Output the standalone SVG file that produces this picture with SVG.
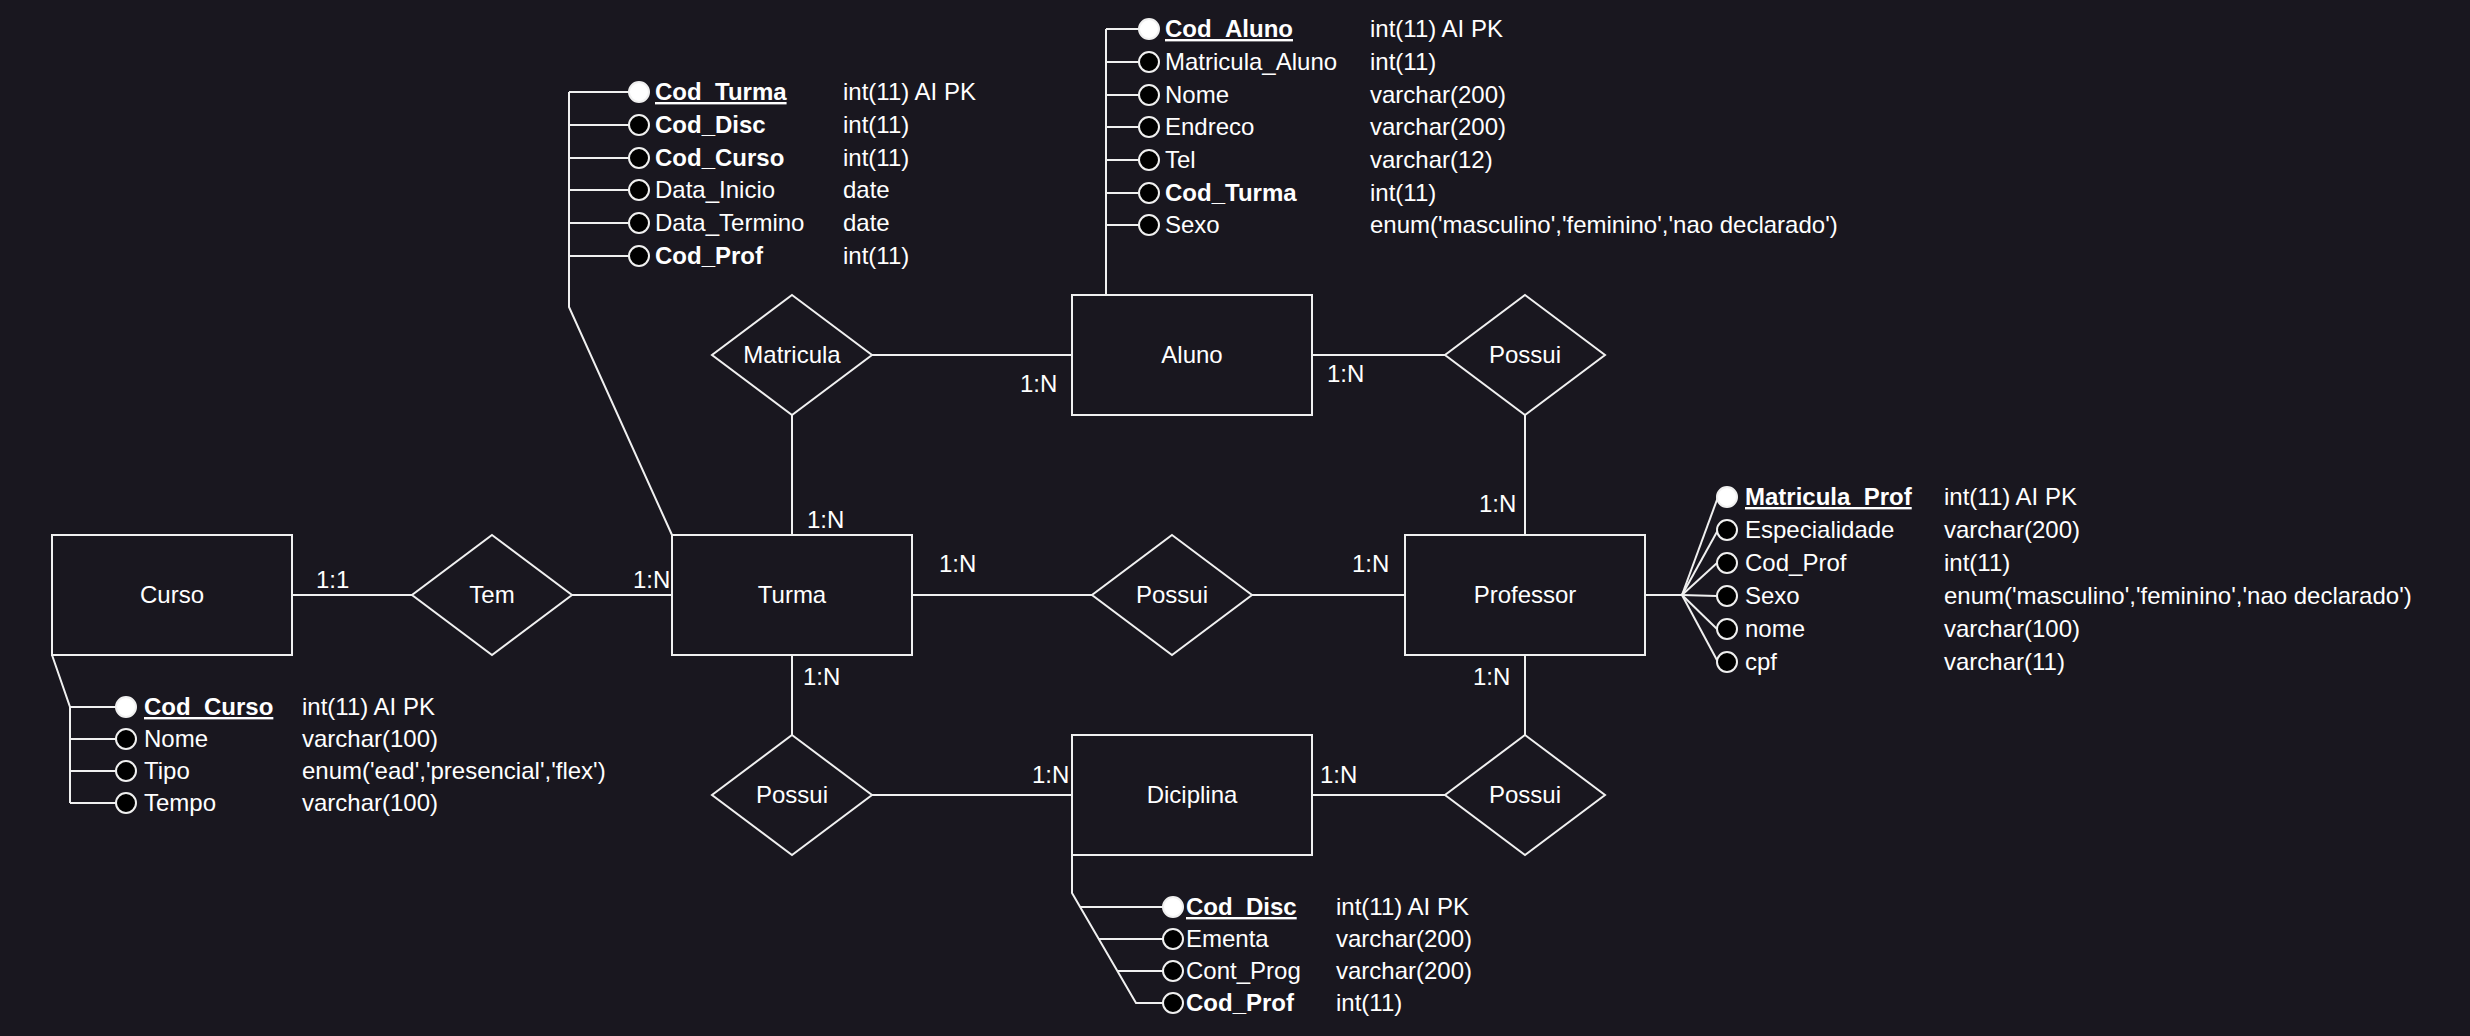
<svg xmlns="http://www.w3.org/2000/svg" width="2470" height="1036" viewBox="0 0 2470 1036">
<style>
.bg{fill:#19171f}
.ent{fill:#19171f;stroke:#f0f0f0;stroke-width:2}
.rel{fill:#19171f;stroke:#f0f0f0;stroke-width:2}
.ln{fill:none;stroke:#f0f0f0;stroke-width:2}
.t{font-family:"Liberation Sans",Arial,sans-serif;font-size:24px;fill:#ffffff}
.c{text-anchor:middle}
.b{font-weight:bold}
.u{text-decoration:underline}
.ca{fill:#000000;stroke:#f0f0f0;stroke-width:2}
.pk{fill:#ffffff;stroke:#f0f0f0;stroke-width:2}
</style>
<rect class="bg" x="0" y="0" width="2470" height="1036"/>

<g id="connectors">
<line class="ln" x1="292" y1="595" x2="412" y2="595"/>
<line class="ln" x1="572" y1="595" x2="672" y2="595"/>
<line class="ln" x1="912" y1="595" x2="1092" y2="595"/>
<line class="ln" x1="1252" y1="595" x2="1405" y2="595"/>
<line class="ln" x1="872" y1="355" x2="1072" y2="355"/>
<line class="ln" x1="1312" y1="355" x2="1445" y2="355"/>
<line class="ln" x1="792" y1="415" x2="792" y2="535"/>
<line class="ln" x1="1525" y1="415" x2="1525" y2="535"/>
<line class="ln" x1="792" y1="655" x2="792" y2="735"/>
<line class="ln" x1="1525" y1="655" x2="1525" y2="735"/>
<line class="ln" x1="872" y1="795" x2="1072" y2="795"/>
<line class="ln" x1="1312" y1="795" x2="1445" y2="795"/>
<text class="t" x="316" y="588">1:1</text>
<text class="t" x="633" y="588">1:N</text>
<text class="t" x="1020" y="392">1:N</text>
<text class="t" x="1327" y="382">1:N</text>
<text class="t" x="807" y="528">1:N</text>
<text class="t" x="1479" y="512">1:N</text>
<text class="t" x="939" y="572">1:N</text>
<text class="t" x="1352" y="572">1:N</text>
<text class="t" x="803" y="685">1:N</text>
<text class="t" x="1473" y="685">1:N</text>
<text class="t" x="1032" y="783">1:N</text>
<text class="t" x="1320" y="783">1:N</text>
</g>

<g id="curso">
<rect class="ent" x="52" y="535" width="240" height="120"/>
<text class="t c" x="172" y="603">Curso</text>
</g>
<g id="curso-attrs">
<polyline class="ln" points="52,655 70,707 70,803"/>
<line class="ln" x1="70" y1="707" x2="116" y2="707"/>
<line class="ln" x1="70" y1="739" x2="116" y2="739"/>
<line class="ln" x1="70" y1="771" x2="116" y2="771"/>
<line class="ln" x1="70" y1="803" x2="116" y2="803"/>
<circle class="pk" cx="126" cy="707" r="10"/>
<circle class="ca" cx="126" cy="739" r="10"/>
<circle class="ca" cx="126" cy="771" r="10"/>
<circle class="ca" cx="126" cy="803" r="10"/>
<text class="t b u" x="144" y="715">Cod_Curso</text>
<text class="t" x="144" y="747">Nome</text>
<text class="t" x="144" y="779">Tipo</text>
<text class="t" x="144" y="811">Tempo</text>
<text class="t" x="302" y="715">int(11) AI PK</text>
<text class="t" x="302" y="747">varchar(100)</text>
<text class="t" x="302" y="779">enum('ead','presencial','flex')</text>
<text class="t" x="302" y="811">varchar(100)</text>
</g>

<g id="tem">
<polygon class="rel" points="492,535 572,595 492,655 412,595"/>
<text class="t c" x="492" y="603">Tem</text>
</g>

<g id="turma">
<rect class="ent" x="672" y="535" width="240" height="120"/>
<text class="t c" x="792" y="603">Turma</text>
</g>
<g id="turma-attrs">
<polyline class="ln" points="672,535 569,307 569,92"/>
<line class="ln" x1="569" y1="92" x2="629" y2="92"/>
<line class="ln" x1="569" y1="125" x2="629" y2="125"/>
<line class="ln" x1="569" y1="158" x2="629" y2="158"/>
<line class="ln" x1="569" y1="190" x2="629" y2="190"/>
<line class="ln" x1="569" y1="223" x2="629" y2="223"/>
<line class="ln" x1="569" y1="256" x2="629" y2="256"/>
<circle class="pk" cx="639" cy="92" r="10"/>
<circle class="ca" cx="639" cy="125" r="10"/>
<circle class="ca" cx="639" cy="158" r="10"/>
<circle class="ca" cx="639" cy="190" r="10"/>
<circle class="ca" cx="639" cy="223" r="10"/>
<circle class="ca" cx="639" cy="256" r="10"/>
<text class="t b u" x="655" y="100">Cod_Turma</text>
<text class="t b" x="655" y="133">Cod_Disc</text>
<text class="t b" x="655" y="166">Cod_Curso</text>
<text class="t" x="655" y="198">Data_Inicio</text>
<text class="t" x="655" y="231">Data_Termino</text>
<text class="t b" x="655" y="264">Cod_Prof</text>
<text class="t" x="843" y="100">int(11) AI PK</text>
<text class="t" x="843" y="133">int(11)</text>
<text class="t" x="843" y="166">int(11)</text>
<text class="t" x="843" y="198">date</text>
<text class="t" x="843" y="231">date</text>
<text class="t" x="843" y="264">int(11)</text>
</g>

<g id="matricula">
<polygon class="rel" points="792,295 872,355 792,415 712,355"/>
<text class="t c" x="792" y="363">Matricula</text>
</g>

<g id="aluno">
<rect class="ent" x="1072" y="295" width="240" height="120"/>
<text class="t c" x="1192" y="363">Aluno</text>
</g>
<g id="aluno-attrs">
<line class="ln" x1="1106" y1="295" x2="1106" y2="29"/>
<line class="ln" x1="1106" y1="29" x2="1139" y2="29"/>
<line class="ln" x1="1106" y1="62" x2="1139" y2="62"/>
<line class="ln" x1="1106" y1="95" x2="1139" y2="95"/>
<line class="ln" x1="1106" y1="127" x2="1139" y2="127"/>
<line class="ln" x1="1106" y1="160" x2="1139" y2="160"/>
<line class="ln" x1="1106" y1="193" x2="1139" y2="193"/>
<line class="ln" x1="1106" y1="225" x2="1139" y2="225"/>
<circle class="pk" cx="1149" cy="29" r="10"/>
<circle class="ca" cx="1149" cy="62" r="10"/>
<circle class="ca" cx="1149" cy="95" r="10"/>
<circle class="ca" cx="1149" cy="127" r="10"/>
<circle class="ca" cx="1149" cy="160" r="10"/>
<circle class="ca" cx="1149" cy="193" r="10"/>
<circle class="ca" cx="1149" cy="225" r="10"/>
<text class="t b u" x="1165" y="37">Cod_Aluno</text>
<text class="t" x="1165" y="70">Matricula_Aluno</text>
<text class="t" x="1165" y="103">Nome</text>
<text class="t" x="1165" y="135">Endreco</text>
<text class="t" x="1165" y="168">Tel</text>
<text class="t b" x="1165" y="201">Cod_Turma</text>
<text class="t" x="1165" y="233">Sexo</text>
<text class="t" x="1370" y="37">int(11) AI PK</text>
<text class="t" x="1370" y="70">int(11)</text>
<text class="t" x="1370" y="103">varchar(200)</text>
<text class="t" x="1370" y="135">varchar(200)</text>
<text class="t" x="1370" y="168">varchar(12)</text>
<text class="t" x="1370" y="201">int(11)</text>
<text class="t" x="1370" y="233">enum('masculino','feminino','nao declarado')</text>
</g>

<g id="possui-aluno-prof">
<polygon class="rel" points="1525,295 1605,355 1525,415 1445,355"/>
<text class="t c" x="1525" y="363">Possui</text>
</g>

<g id="possui-turma-prof">
<polygon class="rel" points="1172,535 1252,595 1172,655 1092,595"/>
<text class="t c" x="1172" y="603">Possui</text>
</g>

<g id="professor">
<rect class="ent" x="1405" y="535" width="240" height="120"/>
<text class="t c" x="1525" y="603">Professor</text>
</g>
<g id="professor-attrs">
<line class="ln" x1="1645" y1="595" x2="1682" y2="595"/>
<line class="ln" x1="1682" y1="595" x2="1718" y2="497"/>
<line class="ln" x1="1682" y1="595" x2="1718" y2="530"/>
<line class="ln" x1="1682" y1="595" x2="1717" y2="563"/>
<line class="ln" x1="1682" y1="595" x2="1717" y2="596"/>
<line class="ln" x1="1682" y1="595" x2="1717" y2="629"/>
<line class="ln" x1="1682" y1="595" x2="1718" y2="662"/>
<circle class="pk" cx="1727" cy="497" r="10"/>
<circle class="ca" cx="1727" cy="530" r="10"/>
<circle class="ca" cx="1727" cy="563" r="10"/>
<circle class="ca" cx="1727" cy="596" r="10"/>
<circle class="ca" cx="1727" cy="629" r="10"/>
<circle class="ca" cx="1727" cy="662" r="10"/>
<text class="t b u" x="1745" y="505">Matricula_Prof</text>
<text class="t" x="1745" y="538">Especialidade</text>
<text class="t" x="1745" y="571">Cod_Prof</text>
<text class="t" x="1745" y="604">Sexo</text>
<text class="t" x="1745" y="637">nome</text>
<text class="t" x="1745" y="670">cpf</text>
<text class="t" x="1944" y="505">int(11) AI PK</text>
<text class="t" x="1944" y="538">varchar(200)</text>
<text class="t" x="1944" y="571">int(11)</text>
<text class="t" x="1944" y="604">enum('masculino','feminino','nao declarado')</text>
<text class="t" x="1944" y="637">varchar(100)</text>
<text class="t" x="1944" y="670">varchar(11)</text>
</g>

<g id="possui-turma-disc">
<polygon class="rel" points="792,735 872,795 792,855 712,795"/>
<text class="t c" x="792" y="803">Possui</text>
</g>

<g id="diciplina">
<rect class="ent" x="1072" y="735" width="240" height="120"/>
<text class="t c" x="1192" y="803">Diciplina</text>
</g>
<g id="diciplina-attrs">
<polyline class="ln" points="1072,855 1072,893 1136,1003 1163,1003"/>
<line class="ln" x1="1080" y1="907" x2="1163" y2="907"/>
<line class="ln" x1="1099" y1="939" x2="1163" y2="939"/>
<line class="ln" x1="1117" y1="971" x2="1163" y2="971"/>
<circle class="pk" cx="1173" cy="907" r="10"/>
<circle class="ca" cx="1173" cy="939" r="10"/>
<circle class="ca" cx="1173" cy="971" r="10"/>
<circle class="ca" cx="1173" cy="1003" r="10"/>
<text class="t b u" x="1186" y="915">Cod_Disc</text>
<text class="t" x="1186" y="947">Ementa</text>
<text class="t" x="1186" y="979">Cont_Prog</text>
<text class="t b" x="1186" y="1011">Cod_Prof</text>
<text class="t" x="1336" y="915">int(11) AI PK</text>
<text class="t" x="1336" y="947">varchar(200)</text>
<text class="t" x="1336" y="979">varchar(200)</text>
<text class="t" x="1336" y="1011">int(11)</text>
</g>

<g id="possui-disc-prof">
<polygon class="rel" points="1525,735 1605,795 1525,855 1445,795"/>
<text class="t c" x="1525" y="803">Possui</text>
</g>
</svg>
